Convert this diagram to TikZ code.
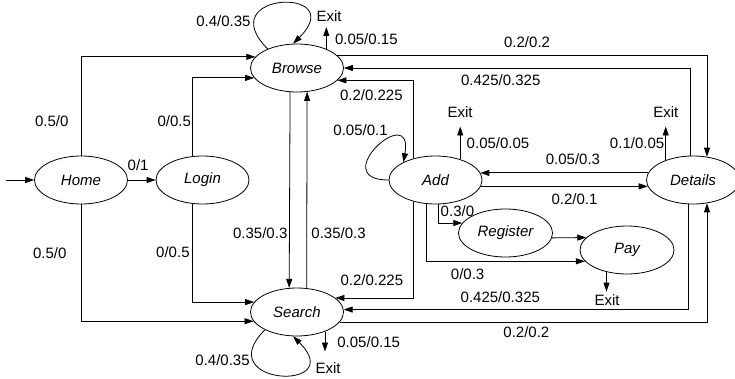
\documentclass[tikz,border=0pt]{standalone}
\usepackage{fontspec}
\setmainfont{Liberation Sans}
\usetikzlibrary{shapes.geometric,arrows.meta}

\tikzset{
    vh/.style={to path={|- (\tikztotarget) \tikztonodes}},
    hv/.style={to path={-| (\tikztotarget) \tikztonodes}},
}

\begin{document}
\begin{tikzpicture}[x=1pt, y=1pt, line width=0.8pt, >={Triangle[length=9pt,width=6pt]},
    font=\fontsize{15}{18}\selectfont]

    \useasboundingbox (0,0) rectangle (735,378);

        \begin{scope}[every node/.style={ellipse,draw,minimum width=93pt,minimum height=48pt,inner sep=0pt,font=\fontsize{15}{18}\selectfont\itshape}]
            \node (home) at (81,198) {Home};
            \node (login) at (202.5,198) {Login};
            \node (browse) at (297,310) {Browse};
            \node (search) at (297,66) {Search};
            \node (add) at (435.5,198) {Add};
            \node (details) at (693,198) {Details};
            \node[minimum width=94pt] (register) at (505.5,145) {Register};
            \node[minimum width=94pt] (pay) at (627,128) {Pay};
        \end{scope}

        \begin{scope}[every node/.style={inner sep=0pt,outer ysep=5pt}]
            \node (browseexit) at (329,361.5) {Exit};
            \node[outer ysep=8.5pt] (addexit) at (460,265.5) {Exit};
            \node[outer ysep=8.5pt] (detailsexit) at (665.8,265.5) {Exit};
            \node[outer ysep=11pt] (searchexit) at (328,10) {Exit};
            \node[outer ysep=3.4pt] (payexit) at (607,77.5) {Exit};
        \end{scope}
        \coordinate (entry) at (6,198);

        \begin{scope}[every node/.style={inner sep=0pt}]
            \path [->] (entry) edge (home);
            \path [->] (home) edge node[pos=0.37, yshift=15pt] {0/1} (login);

            \path [->] (home.north) edge[vh] node[pos=0.173, xshift=-29.3pt] {0.5/0} (browse.165);
            \path [->] (home.south) edge[vh] node[pos=0.208, xshift=-31.3pt] {0.5/0} (search.192);
            \path [->] (login.114) edge[vh] node[pos=0.221, xshift=-17.7pt] {0/0.5} (browse.193);
            \path [->] (login.246) edge[vh] node[pos=0.244, xshift=-19pt] {0/0.5} (search.167);

            \path [->] (browse.254) edge node[pos=0.72, xshift=-29.2pt] {0.35/0.3} (search.108);
            \path [->] (search.68) edge node[pos=0.28, xshift=31.8pt] {0.35/0.3} (browse.293);

            \path [->] (browse.147) edge[out=135, in=45, looseness=8] node[pos=0.25, xshift=-32pt, yshift=-5pt] {0.4/0.35} (browse.99);
            \path [->] (browse.33) edge node[pos=0.45, xshift=40pt] {0.05/0.15} (browse.33 |- browseexit.south);
            \path [->] (browse.18) edge[hv] node[pos=0.257, yshift=12.5pt] {0.2/0.2} (details.59);

            \path [->] (details.95) edge[vh] node[pos=0.774, yshift=-12pt] {0.425/0.325} (browse.east);
            \path [->] (details.171) edge node[pos=0.448, yshift=13.7pt] {0.05/0.3} (add.9);
            \path [->] (details.144) edge node[pos=0.5, xshift=-28.6pt] {0.1/0.05} (details.144 |- detailsexit.south);
            \path [->] (details.260) edge[vh] node[pos=0.773, yshift=12.3pt] {0.425/0.325} (search.3);

            \path [->] (add.135) edge[vh] node[pos=0.778, yshift=-14.3pt] {0.2/0.225} (browse.343);
            \path [->] (add.west) edge[out=180, in=80, looseness=7] node[pos=0.5, xshift=-15.8pt, yshift=17.6pt] {0.05/0.1} (add.151);
            \path [->] (add.40) edge node[pos=0.49, xshift=37.8pt] {0.05/0.05} (add.40 |- addexit.south);
            \path [->] (add.352) edge node[pos=0.561, yshift=-12.3pt] {0.2/0.1} (details.188);
            \path [->] (add.276) edge[vh] node[pos=0.9, yshift=11.4pt] {0.3/0} (register.167);
            \path [->] (add.250) edge[vh] node[pos=0.629, yshift=-13pt] {0/0.3} (pay.195);
            \path [->] (add.225) edge[vh] node[pos=0.768, yshift=18.2pt] {0.2/0.225} (search.20);

            \path [->] (register.354) edge (pay.163);
            \path [->] (pay.227) edge (pay.227 |- payexit.north);

            \path [->] (search.347) edge[hv] node[pos=0.254, yshift=-9.9pt] {0.2/0.2} (details.301);
            \path [->] (search.209) edge[out=225, in=315, looseness=7] node[pos=0.25, xshift=-31pt, yshift=2.7pt] {0.4/0.35} (search.261);
            \path [->] (search.325) edge node[pos=0.54, xshift=43.7pt] {0.05/0.15} (search.325 |- searchexit.north);
        \end{scope}

\end{tikzpicture}
\end{document}
